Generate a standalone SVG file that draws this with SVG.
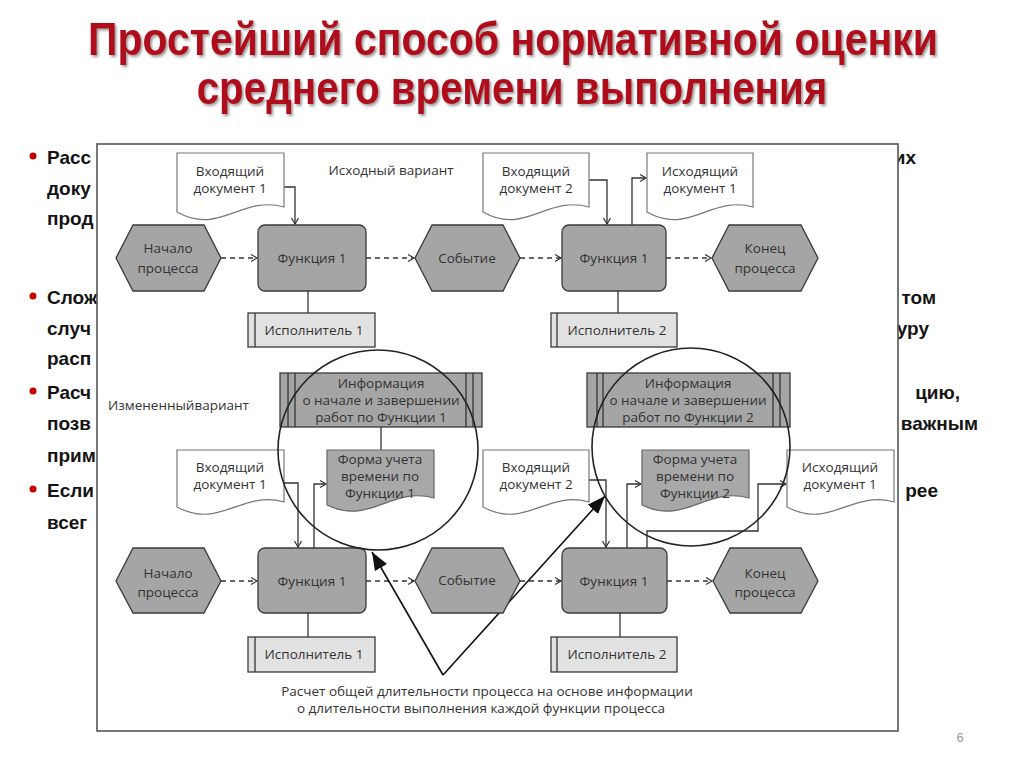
<svg xmlns="http://www.w3.org/2000/svg" width="1024" height="767" viewBox="0 0 1024 767">
<defs>
<style>
.title{font-family:"Liberation Sans",Arial,sans-serif;font-weight:bold;font-size:47px;fill:#b0101c;text-anchor:middle}
.bul{font-family:"Liberation Sans",Arial,sans-serif;font-weight:bold;font-size:19px;fill:#141414}
.bulr{font-family:"Liberation Sans",Arial,sans-serif;font-weight:bold;font-size:19px;fill:#141414;text-anchor:end}
.t{font-family:"Open Sans","DejaVu Sans",sans-serif;font-size:13.5px;fill:#333;text-anchor:middle}
.tl{font-family:"Open Sans","DejaVu Sans",sans-serif;font-size:13.5px;fill:#333}
.g{fill:#a5a5a5;stroke:#3a3a3a;stroke-width:1.3}
.ex{fill:#e2e2e2;stroke:#3a3a3a;stroke-width:1.3}
.doc{fill:#fff;stroke:#777;stroke-width:1.2}
.fd{fill:#a8a8a8;stroke:#666;stroke-width:1.2}
.ln{fill:none;stroke:#333;stroke-width:1.3}
.dash{fill:none;stroke:#333;stroke-width:1.3;stroke-dasharray:5,4}
.big{fill:none;stroke:#111;stroke-width:1.6}
.circ{fill:none;stroke:#222;stroke-width:1.6}
</style>
<marker id="oa" markerUnits="userSpaceOnUse" markerWidth="10" markerHeight="10" refX="8" refY="5" orient="auto">
<path d="M2,1.5 L8,5 L2,8.5" fill="none" stroke="#333" stroke-width="1.2"/>
</marker>
<marker id="fa" markerUnits="userSpaceOnUse" markerWidth="20" markerHeight="16" refX="18" refY="8" orient="auto">
<path d="M0,1 L18,8 L0,15 Z" fill="#111"/>
</marker>
<filter id="sh" x="-5%" y="-30%" width="110%" height="170%">
<feDropShadow dx="2" dy="2" stdDeviation="1.5" flood-color="#555" flood-opacity="0.6"/>
</filter>
</defs>
<rect width="1024" height="767" fill="#fff"/>

<g id="title">
<text class="title" filter="url(#sh)" transform="translate(513,55) scale(0.85,1)" x="0" y="0" textLength="1000" lengthAdjust="spacingAndGlyphs">Простейший способ  нормативной оценки</text>
<text class="title" filter="url(#sh)" transform="translate(512,104) scale(0.85,1)" x="0" y="0" textLength="742" lengthAdjust="spacingAndGlyphs">среднего времени выполнения</text>
</g>

<g id="bullets">
<circle cx="33" cy="156" r="3.5" fill="#c00000"/>
<circle cx="33" cy="296" r="3.5" fill="#c00000"/>
<circle cx="33" cy="391" r="3.5" fill="#c00000"/>
<circle cx="33" cy="489" r="3.5" fill="#c00000"/>
<text class="bul" x="47" y="164">Расс</text>
<text class="bul" x="47" y="195">доку</text>
<text class="bul" x="47" y="225">прод</text>
<text class="bul" x="47" y="304">Слож</text>
<text class="bul" x="47" y="335">случ</text>
<text class="bul" x="47" y="365">расп</text>
<text class="bul" x="47" y="399">Расч</text>
<text class="bul" x="47" y="430">позв</text>
<text class="bul" x="47" y="462">прим</text>
<text class="bul" x="47" y="497">Если</text>
<text class="bul" x="47" y="529">всег</text>
<text class="bulr" x="916" y="164">их</text>
<text class="bulr" x="936" y="304">том</text>
<text class="bulr" x="929" y="335">уру</text>
<text class="bulr" x="960" y="399">цию,</text>
<text class="bulr" x="978" y="430">важным</text>
<text class="bulr" x="938" y="497">рее</text>
</g>

<rect id="frame" x="97" y="144" width="801" height="587" fill="#fff" stroke="#555" stroke-width="1.6"/>

<text class="t" x="391" y="175">Исходный вариант</text>
<text class="tl" x="108" y="410">Измененныйвариант</text>

<g id="connectors">
<path class="ln" d="M284,187 H295 V224" marker-end="url(#oa)"/>
<path class="ln" d="M589,180 H607 V224" marker-end="url(#oa)"/>
<path class="ln" d="M632,225 V178 H646" marker-end="url(#oa)"/>
<path class="ln" d="M308,291 V313"/>
<path class="ln" d="M618,291 V313"/>
<path class="dash" d="M221,258 H257" marker-end="url(#oa)"/>
<path class="dash" d="M366,258 H414" marker-end="url(#oa)"/>
<path class="dash" d="M520,258 H561" marker-end="url(#oa)"/>
<path class="dash" d="M666,258 H711" marker-end="url(#oa)"/>
<path class="ln" d="M381,427 V450"/>
<path class="ln" d="M284,483 H298 V547" marker-end="url(#oa)"/>
<path class="ln" d="M314,548 V484 H326" marker-end="url(#oa)"/>
<path class="ln" d="M589,480 H606 V547" marker-end="url(#oa)"/>
<path class="ln" d="M627,548 V484 H641" marker-end="url(#oa)"/>
<path class="ln" d="M647,548 V531 H758 V484 H786" marker-end="url(#oa)"/>
<path class="ln" d="M308,613 V637"/>
<path class="ln" d="M620,613 V637"/>
<path class="dash" d="M221,581 H257" marker-end="url(#oa)"/>
<path class="dash" d="M366,581 H414" marker-end="url(#oa)"/>
<path class="dash" d="M520,581 H561" marker-end="url(#oa)"/>
<path class="dash" d="M667,581 H712" marker-end="url(#oa)"/>
<path class="big" d="M443,675 L372,552" marker-end="url(#fa)"/>
<path class="big" d="M443,675 L605,496" marker-end="url(#fa)"/>
</g>

<!-- top row -->
<g id="doc-in1-top">
<path class="doc" d="M177,153 H284 V207 C241,195 220,236 177,212 Z"/>
<text class="t" x="230" y="176">Входящий</text>
<text class="t" x="230" y="193">документ 1</text>
</g>
<g id="doc-in2-top">
<path class="doc" d="M483,153 H589 V207 C547,195 525,236 483,212 Z"/>
<text class="t" x="536" y="176">Входящий</text>
<text class="t" x="536" y="193">документ 2</text>
</g>
<g id="doc-out1-top">
<path class="doc" d="M647,153 H753 V207 C711,195 689,236 647,212 Z"/>
<text class="t" x="700" y="176">Исходящий</text>
<text class="t" x="700" y="193">документ 1</text>
</g>
<g id="start-top">
<polygon class="g" points="116,258 133,225 204,225 221,258 204,291 133,291"/>
<text class="t" x="168" y="253">Начало</text>
<text class="t" x="168" y="273">процесса</text>
</g>
<g id="func1-top">
<rect class="g" x="258" y="225" width="108" height="66" rx="7"/>
<text class="t" x="312" y="263">Функция 1</text>
</g>
<g id="event-top">
<polygon class="g" points="415,258 432,225 503,225 520,258 503,291 432,291"/>
<text class="t" x="467" y="263">Событие</text>
</g>
<g id="func2-top">
<rect class="g" x="562" y="225" width="104" height="66" rx="7"/>
<text class="t" x="614" y="263">Функция 1</text>
</g>
<g id="end-top">
<polygon class="g" points="712,258 729,225 801,225 818,258 801,291 729,291"/>
<text class="t" x="765" y="253">Конец</text>
<text class="t" x="765" y="273">процесса</text>
</g>
<g id="exec1-top">
<rect class="ex" x="248" y="313" width="127" height="34"/>
<line class="ln" x1="255" y1="313" x2="255" y2="347"/>
<text class="t" x="314" y="335">Исполнитель 1</text>
</g>
<g id="exec2-top">
<rect class="ex" x="551" y="313" width="126" height="34"/>
<line class="ln" x1="557" y1="313" x2="557" y2="347"/>
<text class="t" x="617" y="335">Исполнитель 2</text>
</g>

<!-- middle -->
<g id="info1">
<rect class="g" x="280" y="373" width="202" height="54"/>
<line class="ln" x1="288" y1="373" x2="288" y2="427"/>
<line class="ln" x1="295" y1="373" x2="295" y2="427"/>
<line class="ln" x1="466" y1="373" x2="466" y2="427"/>
<line class="ln" x1="473" y1="373" x2="473" y2="427"/>
<text class="t" x="381" y="388">Информация</text>
<text class="t" x="381" y="405">о начале и завершении</text>
<text class="t" x="381" y="422">работ по Функции 1</text>
</g>
<g id="info2">
<rect class="g" x="587" y="373" width="203" height="54"/>
<line class="ln" x1="597" y1="373" x2="597" y2="427"/>
<line class="ln" x1="603" y1="373" x2="603" y2="427"/>
<line class="ln" x1="773" y1="373" x2="773" y2="427"/>
<line class="ln" x1="780" y1="373" x2="780" y2="427"/>
<text class="t" x="688" y="388">Информация</text>
<text class="t" x="688" y="405">о начале и завершении</text>
<text class="t" x="688" y="422">работ по Функции 2</text>
</g>
<g id="doc-in1-low">
<path class="doc" d="M177,450 H284 V502 C241,490 220,530 177,507 Z"/>
<text class="t" x="230" y="472">Входящий</text>
<text class="t" x="230" y="489">документ 1</text>
</g>
<g id="form1">
<path class="fd" d="M327,450 H434 V498 C391,486 370,526 327,505 Z"/>
<text class="t" x="380" y="464">Форма учета</text>
<text class="t" x="380" y="481">времени по</text>
<text class="t" x="380" y="498">Функции 1</text>
</g>
<g id="doc-in2-low">
<path class="doc" d="M483,450 H589 V502 C547,490 525,530 483,507 Z"/>
<text class="t" x="536" y="472">Входящий</text>
<text class="t" x="536" y="489">документ 2</text>
</g>
<g id="form2">
<path class="fd" d="M642,450 H749 V498 C706,486 685,526 642,505 Z"/>
<text class="t" x="695" y="464">Форма учета</text>
<text class="t" x="695" y="481">времени по</text>
<text class="t" x="695" y="498">Функции 2</text>
</g>
<g id="doc-out1-low">
<path class="doc" d="M787,450 H894 V502 C851,490 830,530 787,507 Z"/>
<text class="t" x="840" y="472">Исходящий</text>
<text class="t" x="840" y="489">документ 1</text>
</g>

<!-- bottom row -->
<g id="start-low">
<polygon class="g" points="116,581 133,548 204,548 221,581 204,613 133,613"/>
<text class="t" x="168" y="578">Начало</text>
<text class="t" x="168" y="597">процесса</text>
</g>
<g id="func1-low">
<rect class="g" x="258" y="548" width="108" height="65" rx="7"/>
<text class="t" x="312" y="586">Функция 1</text>
</g>
<g id="event-low">
<polygon class="g" points="415,581 432,548 503,548 520,581 503,613 432,613"/>
<text class="t" x="467" y="585">Событие</text>
</g>
<g id="func2-low">
<rect class="g" x="562" y="548" width="105" height="65" rx="7"/>
<text class="t" x="614" y="586">Функция 1</text>
</g>
<g id="end-low">
<polygon class="g" points="713,581 730,548 801,548 818,581 801,613 730,613"/>
<text class="t" x="765" y="578">Конец</text>
<text class="t" x="765" y="597">процесса</text>
</g>
<g id="exec1-low">
<rect class="ex" x="248" y="637" width="127" height="35"/>
<line class="ln" x1="255" y1="637" x2="255" y2="672"/>
<text class="t" x="314" y="659">Исполнитель 1</text>
</g>
<g id="exec2-low">
<rect class="ex" x="551" y="637" width="126" height="35"/>
<line class="ln" x1="557" y1="637" x2="557" y2="672"/>
<text class="t" x="617" y="659">Исполнитель 2</text>
</g>

<g id="circles">
<circle class="circ" cx="378" cy="450" r="100"/>
<circle class="circ" cx="691" cy="447" r="99"/>
</g>

<g id="note">
<text class="t" x="487" y="696">Расчет общей длительности процесса на основе информации</text>
<text class="t" x="481" y="713">о длительности выполнения каждой функции процесса</text>
</g>

<text x="960" y="742" font-family="Liberation Sans,Arial,sans-serif" font-size="13" fill="#999" text-anchor="middle">6</text>
</svg>
